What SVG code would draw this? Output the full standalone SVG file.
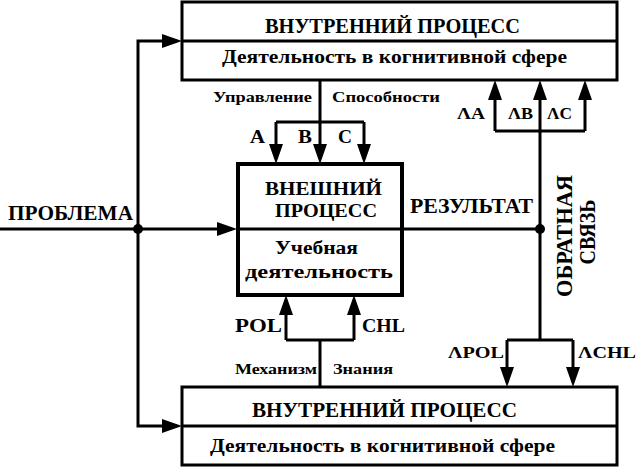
<svg xmlns="http://www.w3.org/2000/svg" width="637" height="468" viewBox="0 0 637 468">
<style>
.t{font-family:"Liberation Serif","Times New Roman",serif;font-weight:bold;fill:#000}
.box{fill:#fff;stroke:#000;stroke-width:3}
.ln{fill:none;stroke:#000;stroke-width:3}
.ar{fill:none;stroke:#000;stroke-width:3;marker-end:url(#ah)}
</style>
<defs>
<marker id="ah" viewBox="0 0 20 14" refX="15" refY="7" markerWidth="20" markerHeight="14" markerUnits="userSpaceOnUse" orient="auto">
<path d="M0,0 L20,7 L0,14 z" fill="#000"/>
</marker>
</defs>
<rect width="637" height="468" fill="#fff"/>

<g id="connectors">
<path class="ar" d="M0,229 H232"/>
<path class="ar" d="M138,229 V41 H177"/>
<path class="ar" d="M138,229 V426 H177"/>
<path class="ln" d="M402,229 H540"/>
<path class="ln" d="M320,80 V122 M276,122 H364"/>
<path class="ar" d="M276,122 V159"/>
<path class="ar" d="M320,122 V159"/>
<path class="ar" d="M364,122 V159"/>
<path class="ln" d="M320,387 V340 M286,340 H354"/>
<path class="ar" d="M286,340 V300"/>
<path class="ar" d="M354,340 V300"/>
<path class="ln" d="M540,131 V340 M495,131 H585 M507,340 H573"/>
<path class="ar" d="M495,131 V85"/>
<path class="ar" d="M540,131 V85"/>
<path class="ar" d="M585,131 V85"/>
<path class="ar" d="M507,340 V382"/>
<path class="ar" d="M573,340 V382"/>
<circle cx="138" cy="229" r="5" fill="#000"/>
<circle cx="540" cy="229" r="5" fill="#000"/>
<text class="t" x="8" y="220" font-size="21" textLength="125" lengthAdjust="spacingAndGlyphs">ПРОБЛЕМА</text>
<text class="t" x="410" y="213" font-size="20" textLength="123" lengthAdjust="spacingAndGlyphs">РЕЗУЛЬТАТ</text>
<text class="t" x="213" y="102" font-size="14" textLength="99" lengthAdjust="spacingAndGlyphs">Управление</text>
<text class="t" x="332" y="102" font-size="14" textLength="108" lengthAdjust="spacingAndGlyphs">Способности</text>
<text class="t" x="250" y="143" font-size="19" textLength="15" lengthAdjust="spacingAndGlyphs">A</text>
<text class="t" x="298" y="143" font-size="19" textLength="14" lengthAdjust="spacingAndGlyphs">B</text>
<text class="t" x="338" y="143" font-size="19" textLength="14" lengthAdjust="spacingAndGlyphs">C</text>
<text class="t" x="235" y="332" font-size="18" textLength="47" lengthAdjust="spacingAndGlyphs">POL</text>
<text class="t" x="362" y="332" font-size="18" textLength="43" lengthAdjust="spacingAndGlyphs">CHL</text>
<text class="t" x="235" y="374" font-size="14" textLength="82" lengthAdjust="spacingAndGlyphs">Механизм</text>
<text class="t" x="333" y="374" font-size="14" textLength="60" lengthAdjust="spacingAndGlyphs">Знания</text>
<text class="t" x="457" y="119" font-size="17" textLength="28" lengthAdjust="spacingAndGlyphs">ΛA</text>
<text class="t" x="508" y="119" font-size="17" textLength="25" lengthAdjust="spacingAndGlyphs">ΛB</text>
<text class="t" x="547" y="119" font-size="17" textLength="25" lengthAdjust="spacingAndGlyphs">ΛC</text>
<text class="t" x="448" y="358" font-size="17" textLength="56" lengthAdjust="spacingAndGlyphs">ΛPOL</text>
<text class="t" x="578" y="358" font-size="17" textLength="58" lengthAdjust="spacingAndGlyphs">ΛCHL</text>
<text class="t" font-size="23" text-anchor="middle" textLength="122" lengthAdjust="spacingAndGlyphs" transform="translate(572,236) rotate(-90)">ОБРАТНАЯ</text>
<text class="t" font-size="23" text-anchor="middle" textLength="65" lengthAdjust="spacingAndGlyphs" transform="translate(595,232) rotate(-90)">СВЯЗЬ</text>
</g>

<g id="top-internal">
<rect class="box" x="182" y="2" width="435" height="78"/>
<path class="ln" d="M182,41 H617"/>
<text class="t" x="265" y="33" font-size="20" textLength="255" lengthAdjust="spacingAndGlyphs">ВНУТРЕННИЙ ПРОЦЕСС</text>
<text class="t" x="222" y="63" font-size="18" textLength="345" lengthAdjust="spacingAndGlyphs">Деятельность в когнитивной сфере</text>
</g>

<g id="external">
<rect x="238" y="164" width="164" height="131" fill="none" stroke="#000" stroke-width="4"/>
<path class="ln" d="M238,229 H402"/>
<text class="t" x="265" y="195" font-size="19" textLength="117" lengthAdjust="spacingAndGlyphs">ВНЕШНИЙ</text>
<text class="t" x="275" y="217" font-size="19" textLength="102" lengthAdjust="spacingAndGlyphs">ПРОЦЕСС</text>
<text class="t" x="275" y="254" font-size="18" textLength="83" lengthAdjust="spacingAndGlyphs">Учебная</text>
<text class="t" x="245" y="278" font-size="18" textLength="148" lengthAdjust="spacingAndGlyphs">деятельность</text>
</g>

<g id="bottom-internal">
<rect class="box" x="182" y="387" width="435" height="78"/>
<path class="ln" d="M182,426 H617"/>
<text class="t" x="252" y="417" font-size="20" textLength="265" lengthAdjust="spacingAndGlyphs">ВНУТРЕННИЙ ПРОЦЕСС</text>
<text class="t" x="210" y="452" font-size="18" textLength="345" lengthAdjust="spacingAndGlyphs">Деятельность в когнитивной сфере</text>
</g>
</svg>
